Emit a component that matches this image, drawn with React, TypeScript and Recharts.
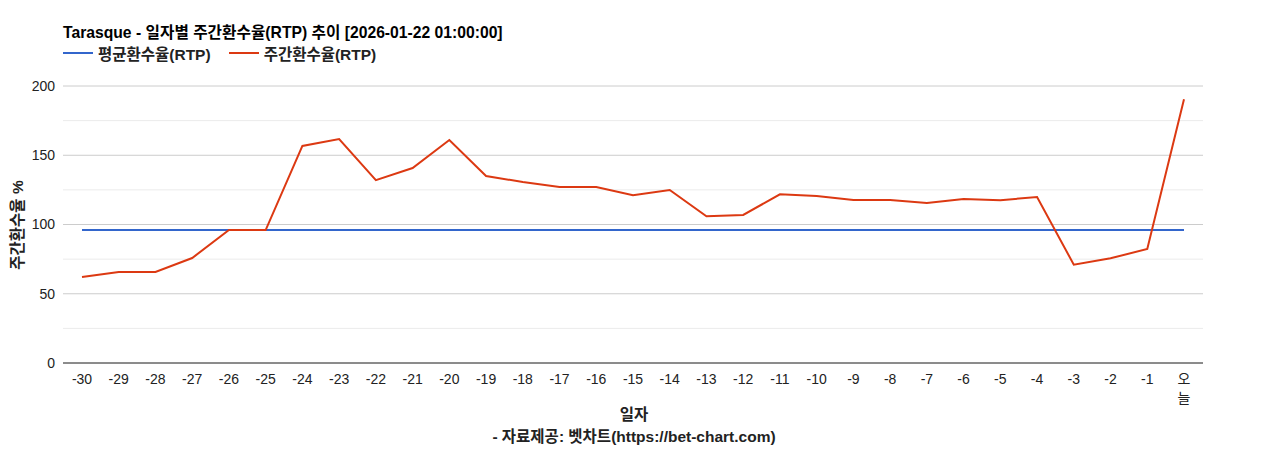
import React from "react";
import { LineChart, Line, XAxis, YAxis, CartesianGrid, ReferenceLine } from "recharts";

const FONT = "Arial, 'Liberation Sans', 'Noto Sans CJK KR', sans-serif";

const days = [
  "-30", "-29", "-28", "-27", "-26", "-25", "-24", "-23", "-22", "-21",
  "-20", "-19", "-18", "-17", "-16", "-15", "-14", "-13", "-12", "-11",
  "-10", "-9", "-8", "-7", "-6", "-5", "-4", "-3", "-2", "-1", "오늘",
];
const weeklyRtp = [
  62.1, 65.7, 65.7, 75.8, 96, 96, 156.7, 161.7, 132, 140.8,
  161, 135, 130.7, 127, 127, 121.1, 124.9, 105.9, 106.9, 121.8,
  120.6, 117.7, 117.7, 115.5, 118.4, 117.5, 119.9, 71, 75.6, 82.3, 190.4,
];
const avgRtp = 96;
const yTicks = [0, 50, 100, 150, 200];
const minorTicks = [25, 75, 125, 175];

const data = days.map((d, i) => ({ day: d, avg: avgRtp, weekly: weeklyRtp[i] }));

const series = [
  { key: "avg", name: "평균환수율(RTP)", color: "#3366cc" },
  { key: "weekly", name: "주간환수율(RTP)", color: "#dc3912" },
];

function DayTick(props: any) {
  const { x, y, payload } = props;
  const v: string = payload.value;
  if (v === "오늘") {
    return (
      <text x={x} y={y} textAnchor="middle" fontSize={14} fill="#222" fontFamily={FONT}>
        <tspan x={x} dy="1em">오</tspan>
        <tspan x={x} dy="1.35em">늘</tspan>
      </text>
    );
  }
  return (
    <text x={x} y={y} dy="1em" textAnchor="middle" fontSize={14} fill="#222" fontFamily={FONT}>
      {v}
    </text>
  );
}

const bold = { fontSize: 15.5, fontWeight: "bold" as const, color: "#222" };

export default function App() {
  return (
    <div style={{ position: "absolute", left: 0, top: 0, width: 1268, height: 450, background: "#fff", fontFamily: FONT }}>
      <div style={{ position: "absolute", left: 63, top: 20, ...bold, fontSize: 15.7, color: "#000" }}>
        Tarasque - 일자별 주간환수율(RTP) 추이 [2026-01-22 01:00:00]
      </div>
      <div style={{ position: "absolute", left: 63, top: 42, display: "flex", gap: 18, ...bold }}>
        {series.map((s) => (
          <div key={s.key} style={{ display: "flex", alignItems: "center" }}>
            <span style={{ display: "inline-block", width: 30, height: 2, background: s.color, marginRight: 5 }} />
            {s.name}
          </div>
        ))}
      </div>
      <LineChart width={1268} height={450} data={data} margin={{ top: 86, right: 65, bottom: 57, left: 0 }}>
        <CartesianGrid vertical={false} stroke="#cccccc" />
        {minorTicks.map((t) => (
          <ReferenceLine key={t} y={t} stroke="#ebebeb" />
        ))}
        <XAxis
          dataKey="day"
          tick={<DayTick />}
          tickLine={false}
          tickSize={0}
          tickMargin={7}
          interval={0}
          padding={{ left: 19, right: 19 }}
          height={30}
          stroke="#333"
        />
        <YAxis
          width={63}
          domain={[0, 200]}
          ticks={yTicks}
          axisLine={false}
          tickLine={false}
          tickSize={0}
          tickMargin={8}
          tick={{ fontSize: 14, fill: "#222", fontFamily: FONT }}
        />
        {series.map((s) => (
          <Line
            key={s.key}
            dataKey={s.key}
            name={s.name}
            stroke={s.color}
            strokeWidth={2}
            dot={false}
            activeDot={false}
            isAnimationActive={false}
          />
        ))}
      </LineChart>
      <div
        style={{
          position: "absolute",
          left: 16,
          top: 225,
          transform: "translate(-50%, -50%) rotate(-90deg)",
          ...bold,
          whiteSpace: "nowrap",
        }}
      >
        주간환수율 %
      </div>
      <div style={{ position: "absolute", left: 0, width: 1268, top: 404, textAlign: "center", ...bold, lineHeight: "22px" }}>
        일자
        <br />
        - 자료제공: 벳차트(https://bet-chart.com)
      </div>
    </div>
  );
}
